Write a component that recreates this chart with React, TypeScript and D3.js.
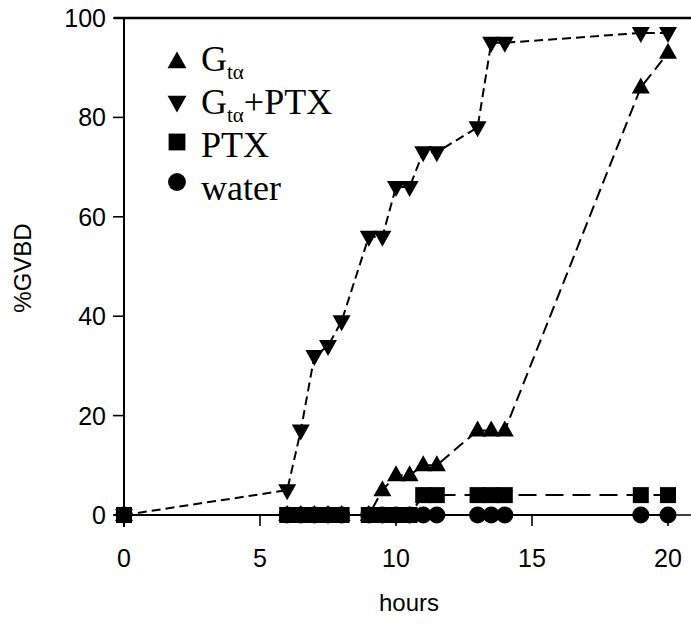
import React from "react";
import * as d3 from "d3";

// Sampling times (hours) shared by all four conditions
const hours = [0, 6, 6.5, 7, 7.5, 8, 9, 9.5, 10, 10.5, 11, 11.5, 13, 13.5, 14, 19, 20];

// %GVBD for each condition
const gta = [0, 0, 0, 0, 0, 0, 0, 5, 8, 8, 10, 10, 17, 17, 17, 86, 93];
const gtaPtx = [0, 5, 17, 32, 34, 39, 56, 56, 66, 66, 73, 73, 78, 95, 95, 97, 97];
const ptx = [0, 0, 0, 0, 0, 0, 0, 0, 0, 0, 4, 4, 4, 4, 4, 4, 4];
const water = [0, 0, 0, 0, 0, 0, 0, 0, 0, 0, 0, 0, 0, 0, 0, 0, 0];

const xTicks = [0, 5, 10, 15, 20];
const yTicks = [0, 20, 40, 60, 80, 100];

type Shape = "up" | "down" | "square" | "circle";

const series: { values: number[]; shape: Shape; dash: string | null }[] = [
  { values: water, shape: "circle", dash: null },
  { values: ptx, shape: "square", dash: "18,9" },
  { values: gta, shape: "up", dash: "12,6" },
  { values: gtaPtx, shape: "down", dash: "9,5" },
];

function Marker({ shape, cx, cy, s = 1 }: { shape: Shape; cx: number; cy: number; s?: number }) {
  if (shape === "circle") return <circle cx={cx} cy={cy} r={8.5 * s} fill="#000" />;
  if (shape === "square")
    return <rect x={cx - 8 * s} y={cy - 8 * s} width={16 * s} height={16 * s} fill="#000" />;
  const d =
    shape === "up"
      ? `M${cx},${cy - 10 * s}L${cx + 9 * s},${cy + 6 * s}L${cx - 9 * s},${cy + 6 * s}Z`
      : `M${cx},${cy + 10 * s}L${cx + 9 * s},${cy - 6 * s}L${cx - 9 * s},${cy - 6 * s}Z`;
  return <path d={d} fill="#000" />;
}

export default function App() {
  const W = 691;
  const H = 624;
  const x = d3.scaleLinear().domain([0, 20]).range([124, 668]);
  const y = d3.scaleLinear().domain([0, 100]).range([515, 18]);
  const line = d3
    .line<number>()
    .x((_, i) => x(hours[i]))
    .y((v) => y(v));

  const sans = "'Liberation Sans', Arial, Helvetica, sans-serif";
  const serif = "'Liberation Serif', 'Times New Roman', serif";

  const legend: { shape: Shape; label: React.ReactNode }[] = [
    {
      shape: "up",
      label: (
        <>
          G<tspan fontSize={21} dy={8}>tα</tspan>
        </>
      ),
    },
    {
      shape: "down",
      label: (
        <>
          G<tspan fontSize={21} dy={8}>tα</tspan>
          <tspan dy={-8}>+PTX</tspan>
        </>
      ),
    },
    { shape: "square", label: "PTX" },
    { shape: "circle", label: "water" },
  ];

  return (
    <svg
      width={W}
      height={H}
      style={{ position: "absolute", left: 0, top: 0, background: "#fff" }}
    >
      <rect width={W} height={H} fill="#fff" />
      {/* frame */}
      <line x1={114} x2={W} y1={y(100)} y2={y(100)} stroke="#000" strokeWidth={2.5} />
      <line x1={x(0)} x2={x(0)} y1={y(100)} y2={y(0) + 12} stroke="#000" strokeWidth={2} />
      <line x1={114} x2={W} y1={y(0)} y2={y(0)} stroke="#000" strokeWidth={1.6} />

      {/* y axis ticks */}
      {yTicks.map((t) => (
        <g key={"y" + t}>
          <line x1={113} x2={x(0)} y1={y(t)} y2={y(t)} stroke="#000" strokeWidth={1.6} />
          <text
            x={106}
            y={y(t)}
            dy="0.36em"
            textAnchor="end"
            fontFamily={sans}
            fontSize={25}
            fill="#000"
          >
            {t}
          </text>
        </g>
      ))}

      {/* x axis ticks */}
      {xTicks.map((t) => (
        <g key={"x" + t}>
          <line x1={x(t)} x2={x(t)} y1={y(0)} y2={y(0) + 11} stroke="#000" strokeWidth={1.6} />
          <text
            x={x(t)}
            y={567}
            textAnchor="middle"
            fontFamily={sans}
            fontSize={25}
            fill="#000"
          >
            {t}
          </text>
        </g>
      ))}

      <text x={409} y={611} textAnchor="middle" fontFamily={sans} fontSize={24} fill="#000">
        hours
      </text>
      <text
        transform="translate(31,268) rotate(-90)"
        textAnchor="middle"
        fontFamily={sans}
        fontSize={24}
        fill="#000"
      >
        %GVBD
      </text>

      {/* series lines */}
      {series.map((s, i) => (
        <path
          key={"l" + i}
          d={line(s.values) ?? ""}
          fill="none"
          stroke="#000"
          strokeWidth={2}
          strokeDasharray={s.dash ?? undefined}
        />
      ))}

      {/* series markers */}
      {series.map((s, i) => (
        <g key={"m" + i}>
          {s.values.map((v, j) => (
            <Marker key={j} shape={s.shape} cx={x(hours[j])} cy={y(v)} />
          ))}
        </g>
      ))}

      {/* legend */}
      {legend.map((item, i) => (
        <g key={"lg" + i}>
          <Marker shape={item.shape} cx={177} cy={62 + i * 40} s={1.05} />
          <text
            x={201}
            y={71 + i * 43}
            fontFamily={serif}
            fontSize={36}
            fill="#000"
          >
            {item.label}
          </text>
        </g>
      ))}
    </svg>
  );
}
